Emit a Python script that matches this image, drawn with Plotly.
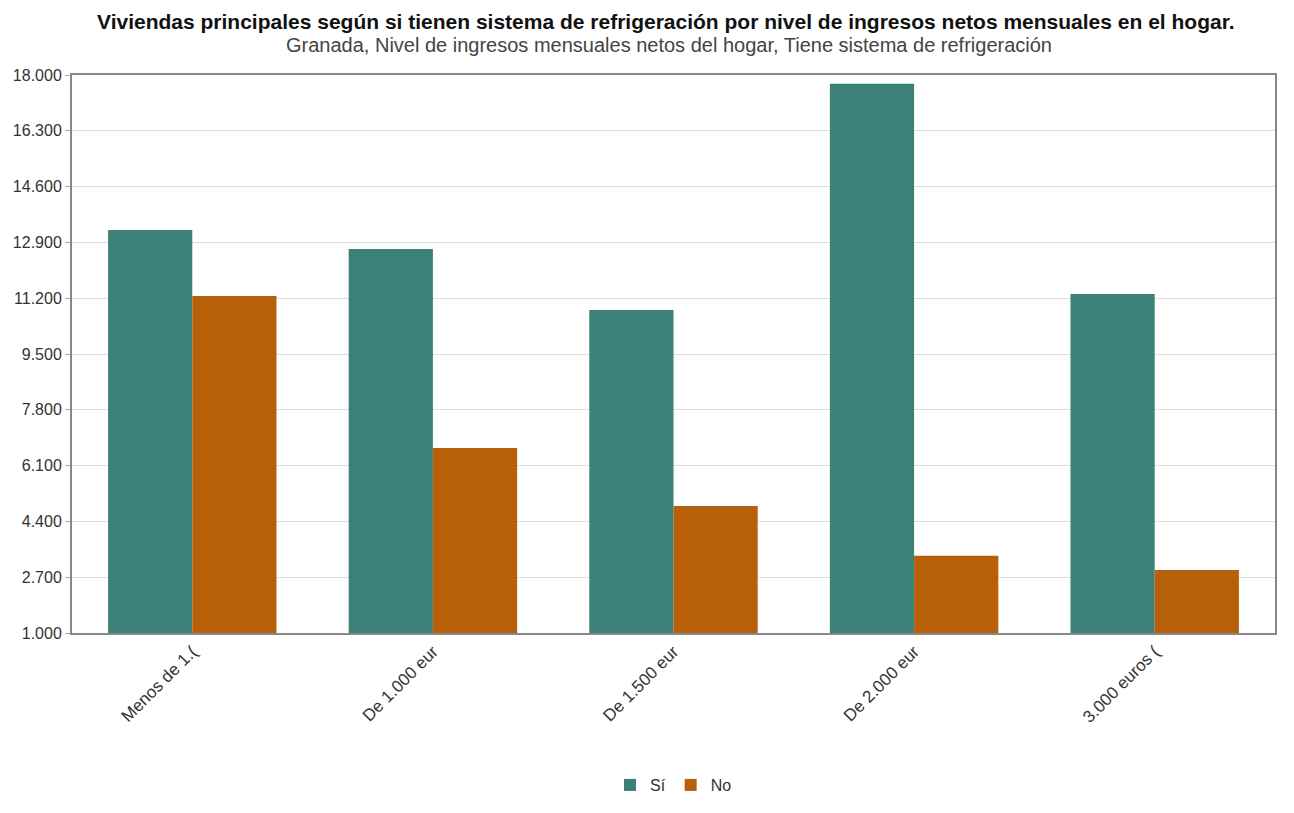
import plotly.graph_objects as go

categories = ["Menos de 1.000 euros", "De 1.000 euros a menos de 1.500 euros",
              "De 1.500 euros a menos de 2.000 euros", "De 2.000 euros a menos de 3.000 euros",
              "3.000 euros o más"]
tick_labels = ["Menos de 1.(", "De 1.000 eur", "De 1.500 eur", "De 2.000 eur", "3.000 euros ("]
si_values = [13280, 12700, 10840, 17730, 11330]
no_values = [11270, 6640, 4870, 3350, 2920]
y_ticks = [1000, 2700, 4400, 6100, 7800, 9500, 11200, 12900, 14600, 16300, 18000]

fig = go.Figure()
fig.add_trace(go.Bar(name="Sí", x=categories, y=si_values, marker_color="#3d8077",
                     marker_line_width=0))
fig.add_trace(go.Bar(name="No", x=categories, y=no_values, marker_color="#b85f0a",
                     marker_line_width=0))

fig.update_layout(
    width=1286, height=797,
    separators=",.",
    font=dict(family="Arial, Liberation Sans, sans-serif", size=16, color="#333333"),
    paper_bgcolor="white", plot_bgcolor="white",
    margin=dict(l=64, r=19, t=67, b=172, autoexpand=False),
    barmode="group", bargap=0.3, bargroupgap=0.0,
    showlegend=True,
    legend=dict(orientation="h", x=0.5, xanchor="center", y=-0.242, yanchor="top",
                font=dict(size=16, color="#333333"), itemwidth=30, tracegroupgap=0),
    annotations=[
        dict(text="<b>Viviendas principales según si tienen sistema de refrigeración por nivel de ingresos netos mensuales en el hogar.</b>",
             xref="paper", yref="paper", x=0.4935, y=1.0, yshift=54, xanchor="center", yanchor="middle",
             showarrow=False, font=dict(size=21, color="#111111")),
        dict(text="Granada, Nivel de ingresos mensuales netos del hogar, Tiene sistema de refrigeración",
             xref="paper", yref="paper", x=0.4965, y=1.0, yshift=30, xanchor="center", yanchor="middle",
             showarrow=False, font=dict(size=20, color="#444444")),
    ],
    shapes=[
        dict(type="line", xref="paper", yref="paper", x0=1.0141, x1=1.0141, y0=-0.30, y1=1.12,
             line=dict(color="#222222", width=3)),
    ],
)

fig.update_xaxes(tickmode="array", tickvals=categories, ticktext=tick_labels,
                 tickangle=-45, showline=True, linecolor="#888888", linewidth=2, mirror=True,
                 ticks="", tickfont=dict(size=17, color="#333333"), showgrid=False)
fig.update_yaxes(range=[1000, 18000], tickmode="array", tickvals=y_ticks,
                 tickformat=",d", showgrid=True, gridcolor="#dddddd", gridwidth=1,
                 showline=True, linecolor="#888888", linewidth=2, mirror=True,
                 ticks="outside", ticklen=5, tickcolor="#aaaaaa",
                 tickfont=dict(size=16, color="#333333"), zeroline=False)

fig.write_html("out.html")
